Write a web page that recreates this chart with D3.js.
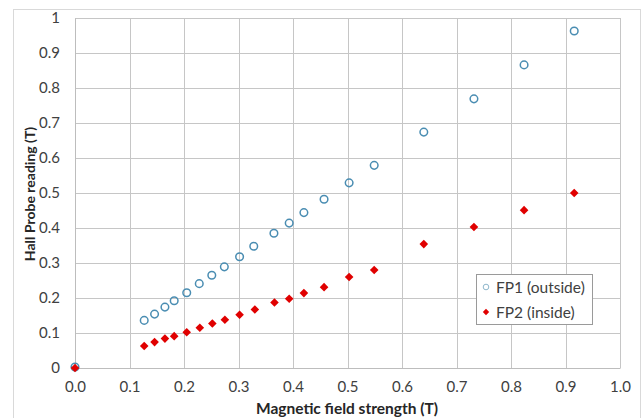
<!DOCTYPE html>
<html><head><meta charset="utf-8">
<script src="https://cdn.jsdelivr.net/npm/d3@7"></script>
<style>body{margin:0;background:#fff;} svg{display:block;}</style>
</head><body>
<svg id="c" width="643" height="418"></svg>
<script>
const fp1X = [0.0, 0.127, 0.146, 0.165, 0.182, 0.205, 0.228, 0.251, 0.274, 0.302, 0.328, 0.365, 0.393, 0.420, 0.457, 0.503, 0.549, 0.640, 0.732, 0.824, 0.916];
const fp1Y = [0.003, 0.136, 0.154, 0.174, 0.192, 0.215, 0.241, 0.265, 0.289, 0.318, 0.348, 0.385, 0.414, 0.444, 0.482, 0.529, 0.579, 0.674, 0.769, 0.866, 0.963];
const fp2X = [0.0, 0.127, 0.146, 0.165, 0.182, 0.205, 0.229, 0.252, 0.275, 0.302, 0.330, 0.366, 0.393, 0.420, 0.457, 0.503, 0.549, 0.640, 0.732, 0.824, 0.916];
const fp2Y = [0.0, 0.063, 0.074, 0.084, 0.091, 0.102, 0.115, 0.127, 0.138, 0.152, 0.167, 0.187, 0.198, 0.214, 0.231, 0.260, 0.280, 0.354, 0.403, 0.451, 0.500];
const xTicks = [0, 0.1, 0.2, 0.3, 0.4, 0.5, 0.6, 0.7, 0.8, 0.9, 1.0];
const yTicks = [0, 0.1, 0.2, 0.3, 0.4, 0.5, 0.6, 0.7, 0.8, 0.9, 1];
const seriesNames = ["FP1 (outside)", "FP2 (inside)"];
const xTitle = "Magnetic field strength (T)";
const yTitle = "Hall Probe reading (T)";

const svg = d3.select("#c");
const font = "Lato, 'Open Sans', sans-serif";
const blue = "#4a8db2", red = "#e00000", grid = "#c6c6c6";

svg.append("rect").attr("x", 13.5).attr("y", 9.5).attr("width", 627).attr("height", 420)
  .attr("fill", "#fff").attr("stroke", "#d9d9d9");

const x = d3.scaleLinear().domain([0, 1]).range([75, 620]);
const y = d3.scaleLinear().domain([0, 1]).range([368, 18]);

// gridlines
const g = svg.append("g");
g.selectAll("line.v").data(xTicks).join("line")
  .attr("x1", d => Math.round(x(d)) + 0.5).attr("x2", d => Math.round(x(d)) + 0.5)
  .attr("y1", y(1)).attr("y2", y(0)).attr("stroke", grid);
g.selectAll("line.h").data(yTicks).join("line")
  .attr("y1", d => Math.round(y(d)) + 0.5).attr("y2", d => Math.round(y(d)) + 0.5)
  .attr("x1", x(0)).attr("x2", x(1)).attr("stroke", grid);

// axes
const xAxis = svg.append("g").attr("transform", `translate(0,${y(0)})`)
  .call(d3.axisBottom(x).tickValues(xTicks).tickFormat(d3.format(".1f")).tickSize(0).tickPadding(13));
xAxis.select(".domain").attr("stroke", "#bdbdbd");
xAxis.selectAll("text").attr("font-family", font).attr("font-size", 15).attr("fill", "#404040");

const yAxis = svg.append("g").attr("transform", `translate(${x(0)},0)`)
  .call(d3.axisLeft(y).tickValues(yTicks).tickFormat(d => d === 0 ? "0" : d === 1 ? "1" : d3.format(".1f")(d)).tickSize(0).tickPadding(15));
yAxis.select(".domain").attr("stroke", "#bdbdbd");
yAxis.selectAll("text").attr("font-family", font).attr("font-size", 15).attr("fill", "#404040");

// titles
svg.append("text").attr("x", 347).attr("y", 414).attr("text-anchor", "middle")
  .attr("font-family", font).attr("font-weight", "bold").attr("font-size", 15.5).attr("fill", "#262626").text(xTitle);
svg.append("text").attr("transform", "translate(35,194) rotate(-90)").attr("text-anchor", "middle")
  .attr("font-family", font).attr("font-weight", "bold").attr("font-size", 14).attr("fill", "#262626").text(yTitle);

const diamond = (r) => `M0,${-r}L${r},0L0,${r}L${-r},0Z`;

// FP1 circles
const d1 = fp1X.map((v, i) => [v, fp1Y[i]]);
const d2 = fp2X.map((v, i) => [v, fp2Y[i]]);
svg.append("g").selectAll("circle").data(d1).join("circle")
  .attr("cx", d => x(d[0])).attr("cy", d => y(d[1])).attr("r", 3.8)
  .attr("fill", "none").attr("stroke", blue).attr("stroke-width", 1.5);
svg.append("g").selectAll("path").data(d2).join("path")
  .attr("transform", d => `translate(${x(d[0])},${y(d[1])})`).attr("d", diamond(4.3)).attr("fill", red);

// legend
const lg = svg.append("g");
lg.append("rect").attr("x", 476.5).attr("y", 274.5).attr("width", 116).attr("height", 50)
  .attr("fill", "#fff").attr("stroke", "#9a9a9a");
lg.append("circle").attr("cx", 486).attr("cy", 287).attr("r", 2.8).attr("fill", "none").attr("stroke", "#8fb7cc").attr("stroke-width", 1);
lg.append("path").attr("transform", "translate(486,312)").attr("d", diamond(3.2)).attr("fill", red);
lg.selectAll("text").data(seriesNames).join("text")
  .attr("x", 496).attr("y", (d, i) => 292.5 + i * 25)
  .attr("font-family", font).attr("font-size", 15.5).attr("fill", "#404040").text(d => d);
</script>
</body></html>
